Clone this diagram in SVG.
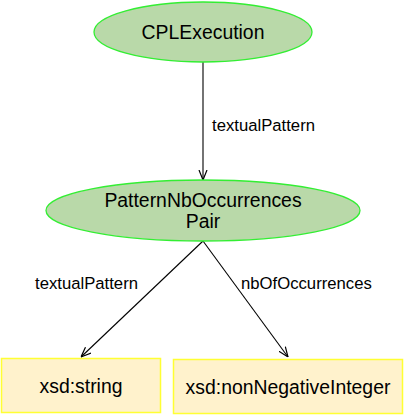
<svg xmlns="http://www.w3.org/2000/svg" width="404" height="415" viewBox="0 0 404 415">
<defs>
<marker id="arr" viewBox="0 0 10 10" refX="10" refY="5" markerWidth="10" markerHeight="10" markerUnits="userSpaceOnUse" orient="auto">
<path d="M0,1 L10,5 L0,9" fill="none" stroke="#000" stroke-width="1.2"/>
</marker>
<style>
.ell{fill:#b9d9a9;stroke:#33ee33;stroke-width:1.3}
.box{fill:#fff2cc;stroke:#ffff33;stroke-width:1.5}
.nt{font-family:"Liberation Sans",Arial,sans-serif;font-size:19.4px;fill:#000;text-anchor:middle}
.et{font-family:"Liberation Sans",Arial,sans-serif;font-size:16.7px;fill:#000}
.edge{stroke:#000;stroke-width:1.1;fill:none;marker-end:url(#arr)}
</style>
</defs>
<g id="connectors">
<line class="edge" x1="203" y1="62" x2="203" y2="180"/>
<line class="edge" x1="203" y1="241" x2="81" y2="357"/>
<line class="edge" x1="203" y1="241" x2="288" y2="357"/>
<text class="et" x="212" y="131">textualPattern</text>
<text class="et" x="35" y="289">textualPattern</text>
<text class="et" x="241" y="289">nbOfOccurrences</text>
</g>
<g id="CPLExecution">
<ellipse class="ell" cx="203" cy="32" rx="109" ry="30"/>
<text class="nt" x="203" y="39">CPLExecution</text>
</g>
<g id="PatternNbOccurrencesPair">
<ellipse class="ell" cx="203" cy="210.5" rx="157" ry="30.5"/>
<text class="nt" x="203" y="207">PatternNbOccurrences</text>
<text class="nt" x="203" y="228">Pair</text>
</g>
<g id="xsd-string">
<rect class="box" x="1.5" y="358.5" width="159" height="54"/>
<text class="nt" x="81" y="393">xsd:string</text>
</g>
<g id="xsd-nonNegativeInteger">
<rect class="box" x="173.5" y="359.5" width="229" height="54"/>
<text class="nt" x="288" y="394">xsd:nonNegativeInteger</text>
</g>
</svg>
